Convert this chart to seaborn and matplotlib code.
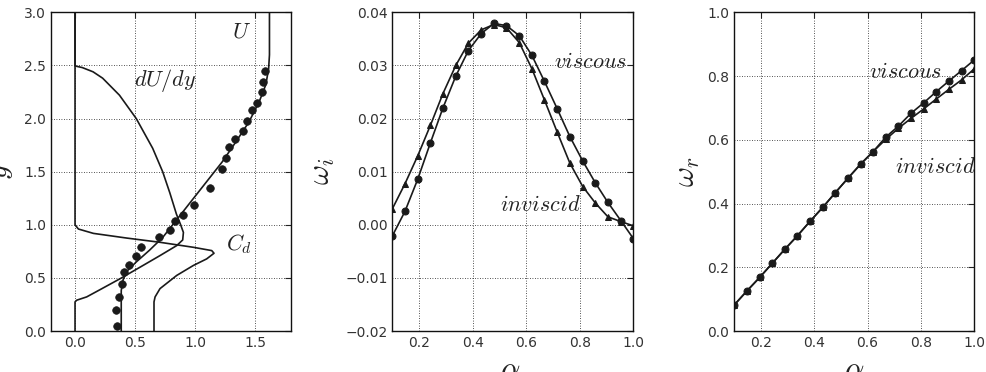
import numpy as np
import pandas as pd
import matplotlib
matplotlib.use("Agg")
import matplotlib.pyplot as plt
import matplotlib.ticker as mticker
import seaborn as sns

# ---------------- data: left panel (profiles vs y) ----------------
U_y = [0.0, 0.38, 0.48, 0.56, 0.65, 0.76, 0.88, 1.03, 1.21, 1.375, 1.59, 1.78, 1.97, 2.16, 2.32, 2.47, 2.6, 3.0]
U_x = [0.385, 0.385, 0.40, 0.43, 0.51, 0.62, 0.73, 0.835, 0.96, 1.075, 1.225, 1.34, 1.45, 1.535, 1.59, 1.613, 1.62, 1.62]

dUdy_y = [0.0, 0.274, 0.29, 0.321, 0.389, 0.492, 0.601, 0.710, 0.804, 0.857, 0.928, 1.0, 1.1, 1.3, 1.5, 1.72, 2.0, 2.22, 2.38, 2.44, 2.48, 2.495, 3.0]
dUdy_x = [0.0, 0.0, 0.014, 0.097, 0.208, 0.375, 0.542, 0.708, 0.847, 0.897, 0.903, 0.88, 0.845, 0.79, 0.73, 0.647, 0.51, 0.37, 0.23, 0.15, 0.06, 0.0, 0.0]

Cd_y = [3.0, 1.0, 0.96, 0.919, 0.875, 0.835, 0.788, 0.757, 0.732, 0.679, 0.617, 0.523, 0.399, 0.321, 0.274, 0.0]
Cd_x = [0.0, 0.0, 0.028, 0.153, 0.43, 0.708, 0.986, 1.139, 1.158, 1.097, 0.986, 0.847, 0.708, 0.667, 0.658, 0.658]

dots_x = [0.347, 0.339, 0.369, 0.389, 0.411, 0.45, 0.508, 0.55, 0.70, 0.792, 0.833, 0.897, 0.99,
          1.128, 1.222, 1.258, 1.281, 1.336, 1.397, 1.433, 1.475, 1.517, 1.556, 1.569, 1.586]
dots_y = [0.05, 0.20, 0.32, 0.445, 0.56, 0.626, 0.71, 0.794, 0.882, 0.95, 1.031, 1.093, 1.183,
          1.35, 1.525, 1.626, 1.736, 1.808, 1.883, 1.977, 2.081, 2.15, 2.247, 2.348, 2.448]

# ---------------- data: middle / right panels (vs alpha) ----------------
alpha = [0.100, 0.147, 0.195, 0.242, 0.289, 0.337, 0.384, 0.432, 0.479, 0.526,
         0.574, 0.621, 0.668, 0.716, 0.763, 0.811, 0.858, 0.905, 0.953, 1.000]

wi_viscous = [-0.0021, 0.0025, 0.0086, 0.0154, 0.0220, 0.0280, 0.0328, 0.0360, 0.0379, 0.0375,
              0.0356, 0.0319, 0.0270, 0.0218, 0.0166, 0.0120, 0.0079, 0.0042, 0.0008, -0.0026]
wi_inviscid = [0.0030, 0.0077, 0.0130, 0.0187, 0.0247, 0.0300, 0.0342, 0.0367, 0.0377, 0.0371,
               0.0343, 0.0294, 0.0235, 0.0174, 0.0116, 0.0072, 0.0041, 0.0015, 0.0006, -0.0002]

wr_viscous = [0.082, 0.1255, 0.168, 0.212, 0.256, 0.299, 0.344, 0.388, 0.434, 0.479,
              0.524, 0.563, 0.608, 0.643, 0.683, 0.716, 0.751, 0.784, 0.817, 0.850]
wr_inviscid = [0.082, 0.1255, 0.168, 0.212, 0.256, 0.299, 0.344, 0.388, 0.434, 0.479,
               0.523, 0.563, 0.601, 0.636, 0.667, 0.697, 0.728, 0.758, 0.788, 0.822]

# ---------------- style ----------------
sns.set_theme(style="white")
plt.rcParams.update({
    "font.family": ["DejaVu Sans"],
    "mathtext.fontset": "cm",
    "axes.unicode_minus": True,
    "xtick.direction": "in",
    "ytick.direction": "in",
    "xtick.top": True,
    "ytick.right": True,
    "xtick.major.size": 4,
    "ytick.major.size": 4,
    "xtick.major.width": 0.8,
    "ytick.major.width": 0.8,
    "xtick.labelsize": 10,
    "ytick.labelsize": 10,
    "xtick.color": "#222222",
    "ytick.color": "#222222",
    "xtick.labelcolor": "#333333",
    "ytick.labelcolor": "#333333",
    "axes.edgecolor": "#111111",
    "axes.linewidth": 1.0,
})

fig = plt.figure(figsize=(9.87, 3.72), dpi=100)
y0, h = 0.1102, 0.8567
ax1 = fig.add_axes([0.0517, y0, 0.2432, h])
ax2 = fig.add_axes([0.3975, y0, 0.2442, h])
ax3 = fig.add_axes([0.7440, y0, 0.2429, h])

LW = 1.2
TXT = "#222222"


def fmt(nd):
    def f(v, pos):
        s = f"{abs(v):.{nd}f}"
        return ("\u2212" + s) if v < -1e-12 else s
    return mticker.FuncFormatter(f)


# ---- left panel ----
sns.lineplot(x=U_x, y=U_y, sort=False, estimator=None, color="k", lw=LW, ax=ax1)
sns.lineplot(x=dUdy_x, y=dUdy_y, sort=False, estimator=None, color="k", lw=LW, ax=ax1)
sns.lineplot(x=Cd_x, y=Cd_y, sort=False, estimator=None, color="k", lw=LW, ax=ax1)
sns.scatterplot(x=dots_x, y=dots_y, color="k", s=30, edgecolor="k", linewidth=0.5, ax=ax1, zorder=3)
ax1.set_xlim(-0.2, 1.8)
ax1.set_ylim(0, 3.0)
ax1.set_xticks([0.0, 0.5, 1.0, 1.5])
ax1.set_yticks([0.0, 0.5, 1.0, 1.5, 2.0, 2.5, 3.0])
ax1.xaxis.set_major_formatter(fmt(1))
ax1.yaxis.set_major_formatter(fmt(1))
ax1.text(1.31, 2.76, r"$U$", fontsize=16, color=TXT)
ax1.text(0.49, 2.31, r"$dU/dy$", fontsize=16, color=TXT)
ax1.text(1.26, 0.76, r"$C_d$", fontsize=16, color=TXT)
ax1.set_ylabel(r"$y$", fontsize=22, color=TXT)
ax1.yaxis.set_label_coords(-0.15, 0.5)

# ---- middle panel ----
sns.lineplot(x=alpha, y=wi_viscous, sort=False, estimator=None, color="k", lw=LW,
             marker="o", markersize=5, markeredgecolor="k", ax=ax2)
sns.lineplot(x=alpha, y=wi_inviscid, sort=False, estimator=None, color="k", lw=LW,
             marker="^", markersize=5, markeredgecolor="k", ax=ax2)
ax2.set_xlim(0.1, 1.0)
ax2.set_ylim(-0.02, 0.04)
ax2.set_xticks([0.2, 0.4, 0.6, 0.8, 1.0])
ax2.set_yticks([-0.02, -0.01, 0.0, 0.01, 0.02, 0.03, 0.04])
ax2.xaxis.set_major_formatter(fmt(1))
ax2.yaxis.set_major_formatter(fmt(2))
ax2.text(0.977, 0.0296, r"$viscous$", fontsize=16, color=TXT, ha="right")
ax2.text(0.502, 0.0026, r"$inviscid$", fontsize=16, color=TXT, ha="left")
ax2.set_ylabel(r"$\omega_i$", fontsize=22, color=TXT)
ax2.yaxis.set_label_coords(-0.23, 0.5)
ax2.set_xlabel(r"$\alpha$", fontsize=22, color=TXT)
ax2.xaxis.set_label_coords(0.49, -0.078)

# ---- right panel ----
sns.lineplot(x=alpha, y=wr_viscous, sort=False, estimator=None, color="k", lw=LW,
             marker="o", markersize=5, markeredgecolor="k", ax=ax3)
sns.lineplot(x=alpha, y=wr_inviscid, sort=False, estimator=None, color="k", lw=LW,
             marker="^", markersize=5, markeredgecolor="k", ax=ax3)
ax3.set_xlim(0.1, 1.0)
ax3.set_ylim(0.0, 1.0)
ax3.set_xticks([0.2, 0.4, 0.6, 0.8, 1.0])
ax3.set_yticks([0.0, 0.2, 0.4, 0.6, 0.8, 1.0])
ax3.xaxis.set_major_formatter(fmt(1))
ax3.yaxis.set_major_formatter(fmt(1))
ax3.text(0.604, 0.794, r"$viscous$", fontsize=16, color=TXT, ha="left", clip_on=True)
ax3.text(0.705, 0.496, r"$inviscid$", fontsize=16, color=TXT, ha="left", clip_on=True)
ax3.set_ylabel(r"$\omega_r$", fontsize=22, color=TXT)
ax3.yaxis.set_label_coords(-0.135, 0.5)
ax3.set_xlabel(r"$\alpha$", fontsize=22, color=TXT)
ax3.xaxis.set_label_coords(0.5, -0.078)

for ax in (ax1, ax2, ax3):
    ax.grid(True, linestyle=(0, (1, 2)), color="k", linewidth=0.6)
    ax.set_axisbelow(True)
    for s in ax.spines.values():
        s.set_visible(True)
        s.set_color("#111111")
        s.set_linewidth(1.0)
    ax.tick_params(which="both", direction="in", top=True, right=True)

fig.savefig("out.png", dpi=100)
